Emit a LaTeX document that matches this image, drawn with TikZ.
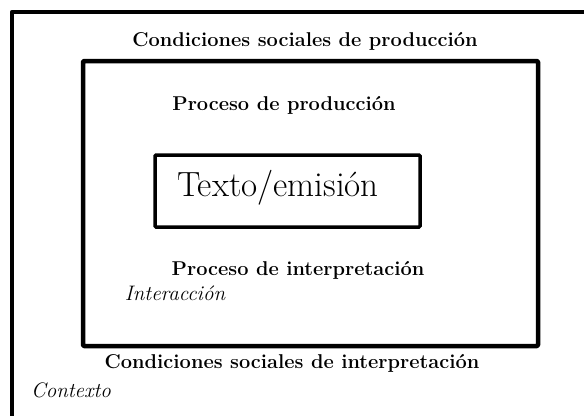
\documentclass[tikz,border=0pt]{standalone}
\usepackage{fontspec}
\begin{document}
\begin{tikzpicture}[x=1pt,y=-1pt,
        titulo/.style={font=\fontsize{20}{24}\selectfont\bfseries},
        nota/.style={font=\fontsize{21}{25}\selectfont\itshape},
        marco/.style={line width=4.5pt, line join=round}]
        \useasboundingbox (0,0) rectangle (584,416);

        % contexto: solo se ven los lados de arriba y de la izquierda
        \draw[marco] (584,12) -- (12,12) -- (12,416);
        % interaccion
        \draw[marco, rounded corners=1pt] (83,61) rectangle (538,346);
        % texto
        \draw[line width=3.5pt, rounded corners=1pt] (155,155) rectangle (420,227);

        \node[titulo] (condprod) at (305,41) {Condiciones sociales de producción};
        \node[titulo] (procprod) at (284,105) {Proceso de producción};
        \node[font=\fontsize{35}{40}\selectfont] (emision) at (278,188) {Texto/emisión};
        \node[titulo] (procinterp) at (298,270) {Proceso de interpretación};
        \node[nota] (interaccion) at (175,293) {Interacción};
        \node[titulo] (condinterp) at (292,363) {Condiciones sociales de interpretación};
        \node[nota] (contexto) at (71,390) {Contexto};
    \end{tikzpicture}
\end{document}
